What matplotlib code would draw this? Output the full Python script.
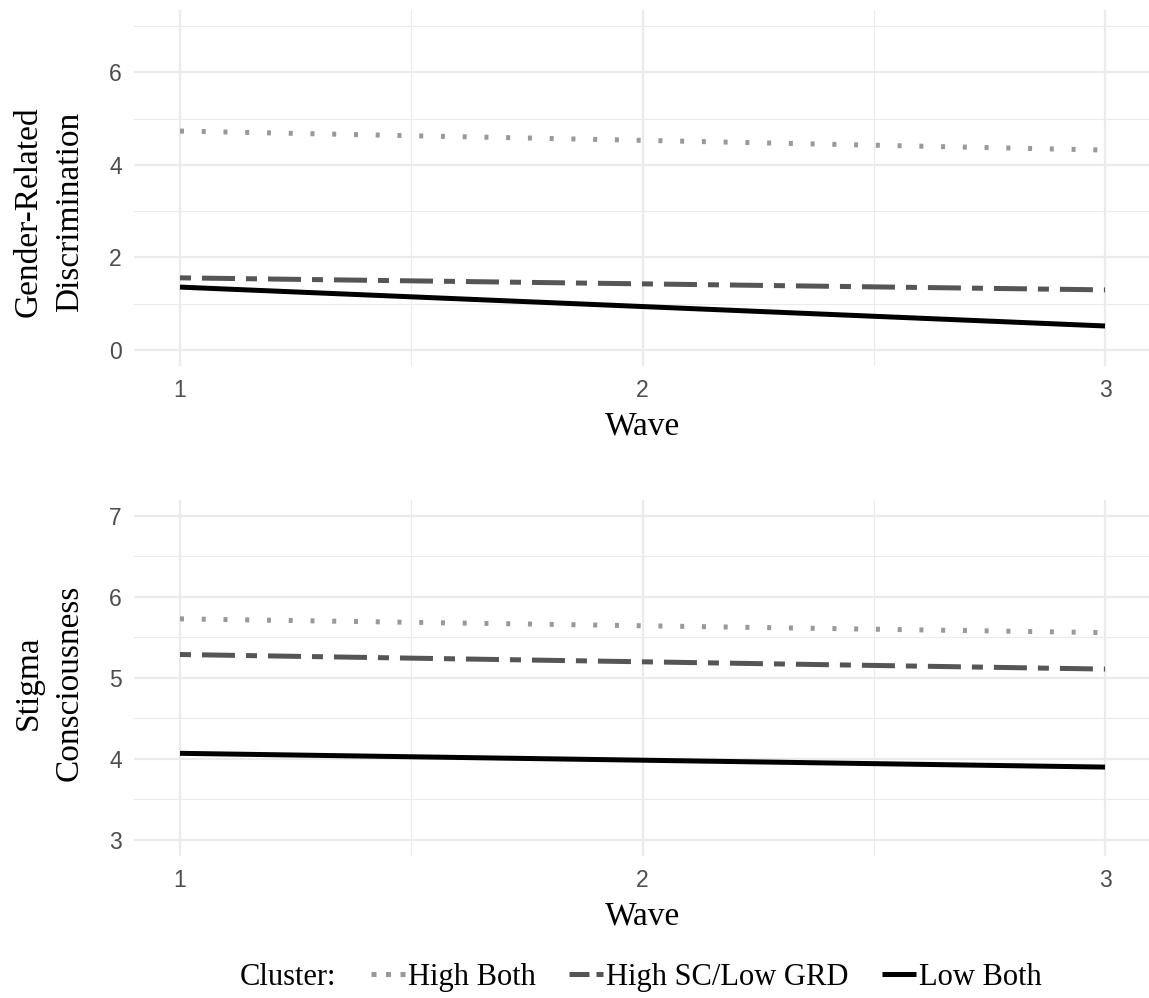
import matplotlib
matplotlib.use("Agg")
import matplotlib.pyplot as plt
from matplotlib.lines import Line2D

# data
waves = [1, 2, 3]
clusters = ["High Both", "High SC/Low GRD", "Low Both"]
grd = {
    "High Both": [4.73, 4.53, 4.32],
    "High SC/Low GRD": [1.56, 1.43, 1.30],
    "Low Both": [1.36, 0.94, 0.52],
}
sc = {
    "High Both": [5.73, 5.645, 5.56],
    "High SC/Low GRD": [5.29, 5.20, 5.11],
    "Low Both": [4.07, 3.985, 3.90],
}

serif = "Liberation Serif"
sans = "Liberation Sans"

colors = {"High Both": "#999999", "High SC/Low GRD": "#555555", "Low Both": "#000000"}
# dash patterns in units of line width (plot lines / legend keys)
dash_plot = {"High Both": (0.8, 3.55), "High SC/Low GRD": (2.2, 2.2, 6.6, 2.2), "Low Both": None}
dash_key = {"High Both": (1, 1.9), "High SC/Low GRD": (4, 1.4, 1.4, 5), "Low Both": None}
lw = 3.6


def line_style(name, dashes):
    d = dict(color=colors[name], lw=lw, solid_capstyle="butt", dash_capstyle="butt")
    if dashes[name] is None:
        d["linestyle"] = "-"
    else:
        d["dashes"] = dashes[name]
    return d


fig = plt.figure(figsize=(11.49, 9.98), dpi=100)
ax1 = fig.add_axes([0.1164, 0.633, 0.8856, 0.3572])
ax2 = fig.add_axes([0.1164, 0.1421, 0.8856, 0.3571])


def style_axes(ax, ylim, yticks, yminor, ylabel, label_y):
    ax.set_xlim(0.9, 3.1)
    ax.set_ylim(*ylim)
    ax.set_xticks([1, 2, 3])
    ax.set_xticks([1.5, 2.5], minor=True)
    ax.set_yticks(yticks)
    ax.set_yticks(yminor, minor=True)
    ax.grid(True, which="major", color="#EBEBEB", lw=1.6)
    ax.grid(True, which="minor", color="#EBEBEB", lw=0.8)
    ax.set_axisbelow(True)
    for s in ax.spines.values():
        s.set_visible(False)
    ax.tick_params(which="both", length=0)
    ax.tick_params(axis="x", pad=9, labelsize=16.5, labelcolor="#4D4D4D")
    ax.tick_params(axis="y", pad=8.5, labelsize=16.5, labelcolor="#4D4D4D")
    for t in ax.get_xticklabels() + ax.get_yticklabels():
        t.set_fontfamily(sans)
    ax.set_xlabel("Wave", fontsize=24, family=serif, labelpad=7)
    ax.text(-0.083, label_y, ylabel, transform=ax.transAxes, rotation=90,
            ha="center", va="center", fontsize=24, family=serif,
            multialignment="center", linespacing=1.45)


for name in clusters:
    ax1.plot(waves, grd[name], **line_style(name, dash_plot))
    ax2.plot(waves, sc[name], **line_style(name, dash_plot))

style_axes(ax1, (-0.35, 7.35), [0, 2, 4, 6], [1, 3, 5, 7],
           "Gender-Related\nDiscrimination", 0.4325)
style_axes(ax2, (2.8, 7.2), [3, 4, 5, 6, 7], [3.5, 4.5, 5.5, 6.5],
           "Stigma\nConsciousness", 0.486)

handles = [Line2D([], [], **line_style(n, dash_key)) for n in clusters]
leg_y = 0.021
fig.text(240 / 1149, leg_y, "Cluster:", fontsize=22, family=serif,
         ha="left", va="center")
fig.legend(handles, clusters, loc="center left",
           bbox_to_anchor=(371 / 1149, leg_y), ncol=3, frameon=False,
           prop={"family": serif, "size": 22}, handlelength=1.1,
           handletextpad=0.12, columnspacing=1.08, borderpad=0,
           borderaxespad=0)

fig.savefig("out.png", dpi=100, facecolor="white")
